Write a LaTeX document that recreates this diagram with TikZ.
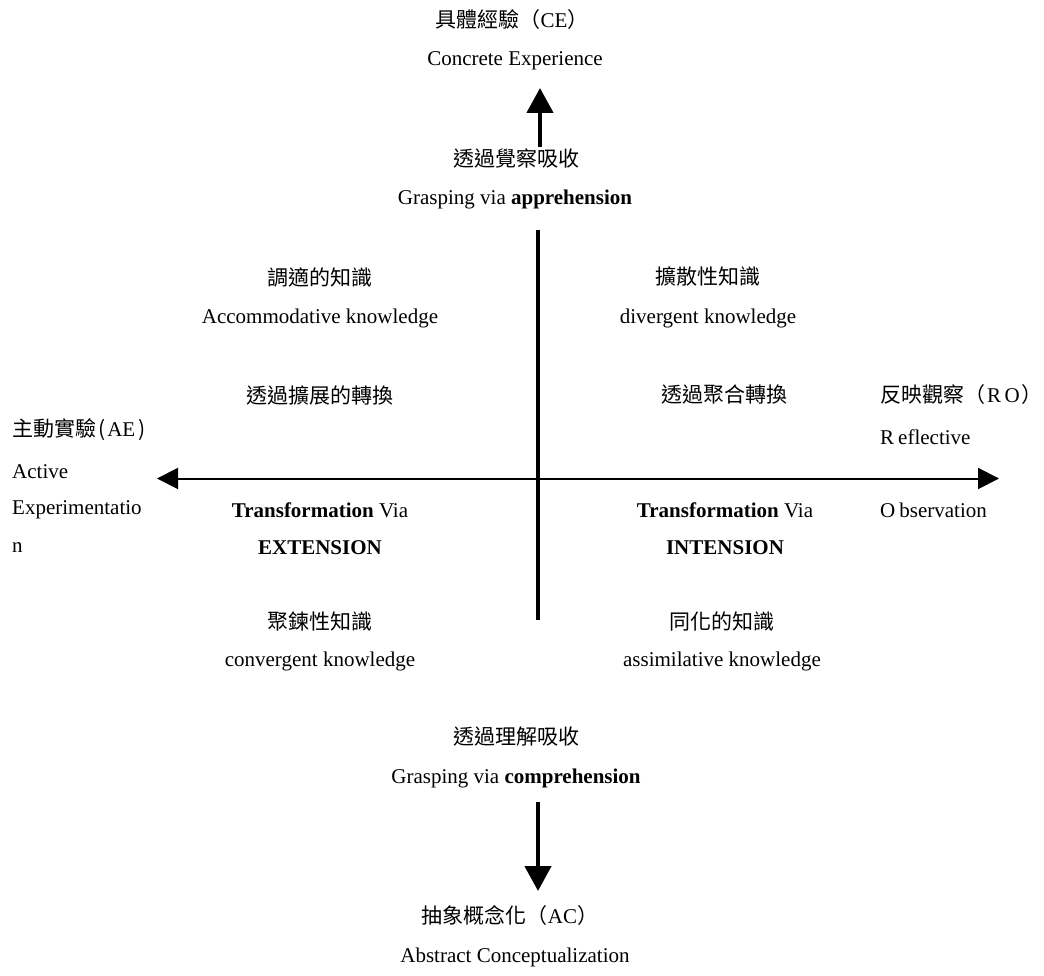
\documentclass[tikz,border=0pt]{standalone}
\usepackage{fontspec}
\setmainfont{Liberation Serif}
\newfontfamily\cjk{Noto Sans CJK TC}
\usetikzlibrary{arrows.meta}

\tikzset{
  lbl/.style={inner sep=0pt, anchor=center, font=\fontsize{21}{25}\selectfont},
  lbll/.style={lbl, anchor=west},
  zh/.style={lbl, font=\fontsize{21}{25}\selectfont\cjk},
  zhl/.style={zh, anchor=west},
  bigarrow/.style={line width=4.5pt, -{Triangle[width=26pt,length=25pt]}},
  sidearrow/.style={line width=2pt, {Triangle[width=21pt,length=21pt]}-{Triangle[width=21pt,length=21pt]}},
}

\begin{document}
\begin{tikzpicture}[x=1pt, y=-1pt]
\useasboundingbox (0,0) rectangle (1044,976);

% top pole: concrete experience
\node[lbl] (ce1) at (512,20) {{\cjk 具體經驗（}CE{\cjk ）}};
\node[lbl] (ce2) at (515,61) {Concrete Experience};
\node[zh]  (ap1) at (516,158) {透過覺察吸收};
\node[lbl] (ap2) at (515,199) {Grasping via \textbf{apprehension}};
\coordinate (upbot) at (540,147);
\coordinate (uptop) at (540,88);
\draw[bigarrow] (upbot) -- (uptop);

% central cross
\coordinate (vtop) at (537.5,230);
\coordinate (vbot) at (537.5,620);
\draw[line width=4pt] (vtop) -- (vbot);
\coordinate (hl) at (157,478.5);
\coordinate (hr) at (999,478.5);
\draw[sidearrow] (hl) -- (hr);

% upper quadrants
\node[zh]  (ac1) at (320,277) {調適的知識};
\node[lbl] (ac2) at (320,318) {Accommodative knowledge};
\node[zh]  (dv1) at (708,277) {擴散性知識};
\node[lbl] (dv2) at (708,318) {divergent knowledge};
\node[zh]  (ex1) at (320,395) {透過擴展的轉換};
\node[zh]  (in1) at (724,395) {透過聚合轉換};

% left pole: active experimentation
\node[lbll] (ae1) at (12,430) {{\cjk 主動實驗\kern2pt(}\kern2pt AE\kern3pt{\cjk )}};
\node[lbll] (ae2) at (12,472) {Active};
\node[lbll] (ae3) at (12,510) {Experimentatio};
\node[lbll] (ae4) at (12,548) {n};

% right pole: reflective observation
\node[lbll] (ro1) at (880,395) {{\cjk 反映觀察（}\makebox[18pt]{R}\makebox[18pt]{O}{\cjk ）}};
\node[lbll] (ro2) at (880,437) {R\kern4pt eflective};
\node[lbll] (ro3) at (880,510) {O\kern4pt bservation};

% transformation labels
\node[lbl] (ex2) at (320,510) {\textbf{Transformation} Via};
\node[lbl] (ex3) at (320,548) {\textbf{EXTENSION}};
\node[lbl] (in2) at (725,510) {\textbf{Transformation} Via};
\node[lbl] (in3) at (725,548) {\textbf{INTENSION}};

% lower quadrants
\node[zh]  (cv1) at (320,621) {聚鍊性知識};
\node[lbl] (cv2) at (320,661) {convergent knowledge};
\node[zh]  (as1) at (722,621) {同化的知識};
\node[lbl] (as2) at (722,661) {assimilative knowledge};

% bottom pole: abstract conceptualization
\node[zh]  (cp1) at (516,737) {透過理解吸收};
\node[lbl] (cp2) at (516,778) {Grasping via \textbf{comprehension}};
\coordinate (dntop) at (538,802);
\coordinate (dnbot) at (538,891);
\draw[bigarrow] (dntop) -- (dnbot);
\node[lbl] (ab1) at (510,916) {{\cjk 抽象概念化（}AC{\cjk ）}};
\node[lbl] (ab2) at (515,957) {Abstract Conceptualization};
\end{tikzpicture}
\end{document}
